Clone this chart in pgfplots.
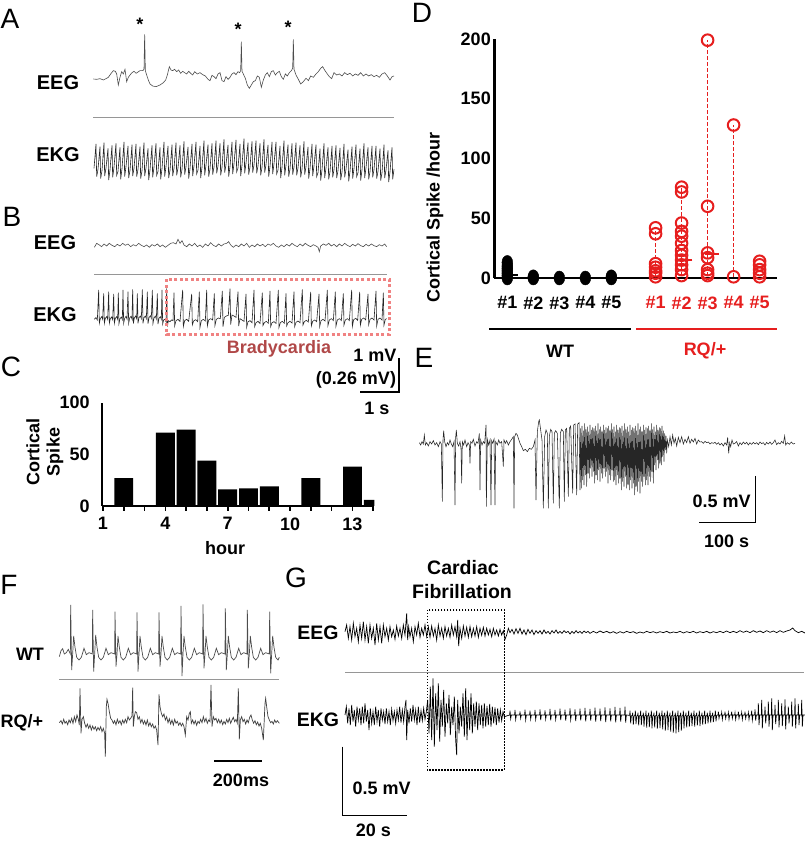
\documentclass[border=0pt]{standalone}
\usepackage{pgfplots}
\pgfplotsset{compat=1.18}
\usepackage{fontspec}
\setmainfont{Liberation Sans}
\definecolor{rqred}{RGB}{230,30,30}
\definecolor{bradybox}{RGB}{240,130,130}
\definecolor{bradytext}{RGB}{176,72,72}
\definecolor{sepgray}{RGB}{150,150,150}
\newcommand{\lab}{\fontsize{18}{21}\selectfont\bfseries}
\newcommand{\labb}{\fontsize{20}{24}\selectfont\bfseries}
\newcommand{\labg}{\fontsize{19.5}{23}\selectfont\bfseries}
\newcommand{\pan}{\fontsize{28}{32}\selectfont}
\pgfplotsset{trace/.style={hide axis, scale only axis, anchor=south west, y dir=reverse, clip=false, xmin=0, ymin=0}}
\begin{document}
\begin{tikzpicture}[x=1pt,y=1pt]
\useasboundingbox (0pt,0pt) rectangle (805pt,843pt);

% ---------------- Panel A traces (zoom coords, region 0,0 400x200)
\begin{axis}[trace, at={(0pt,643pt)}, width=400pt, height=200pt, xmax=1200, ymax=600]
\addplot[black!70, line width=0.6pt] coordinates {(280,237)(290,238)(300,236)(310,240)(318,236)(325,232)(332,222)(340,212)(346,214)(350,222)(355,255)(360,232)(365,215)(370,222)(375,208)(380,245)(385,232)(390,225)(396,218)(402,214)(408,220)(414,216)(420,212)(428,212)(432,208)(434,103)(436,212)(440,225)(445,240)(450,252)(458,258)(468,260)(480,255)(490,248)(497,240)(502,225)(508,200)(513,210)(518,212)(524,208)(530,215)(536,210)(542,220)(548,214)(554,218)(560,222)(566,214)(572,220)(578,225)(584,215)(592,222)(600,218)(608,224)(616,228)(624,238)(630,242)(636,226)(642,230)(648,236)(654,222)(660,218)(666,242)(672,245)(678,230)(684,238)(690,232)(696,222)(702,218)(708,224)(714,215)(719,218)(722,212)(724,125)(726,214)(730,222)(736,235)(742,255)(748,265)(754,255)(760,245)(766,242)(772,228)(778,232)(784,262)(790,240)(796,225)(802,218)(808,230)(814,215)(820,212)(826,225)(832,218)(838,214)(844,230)(850,238)(856,222)(862,228)(868,218)(874,212)(878,205)(880,118)(882,208)(888,225)(895,238)(902,252)(910,245)(918,235)(925,242)(932,228)(940,232)(948,222)(955,215)(962,205)(968,200)(975,212)(982,222)(988,230)(995,236)(1002,218)(1010,225)(1018,222)(1026,228)(1034,218)(1042,224)(1050,220)(1058,228)(1066,222)(1074,226)(1082,218)(1090,228)(1098,222)(1106,228)(1114,224)(1122,230)(1130,226)(1138,232)(1146,222)(1154,218)(1162,228)(1170,240)(1176,230)(1182,228)};
\addplot[black!85, line width=0.6pt] coordinates {(282,505)(288,432)(290,530)(294,508)(300,440)(302,536)(306,512)(312,428)(314,528)(318,504)(324,445)(326,540)(330,510)(336,436)(338,532)(342,502)(348,430)(350,526)(354,514)(360,442)(362,538)(366,506)(372,426)(374,530)(378,500)(384,438)(386,534)(390,511)(396,434)(398,528)(402,505)(408,432)(410,530)(414,508)(420,440)(422,536)(426,512)(432,428)(434,528)(438,504)(444,445)(446,540)(450,510)(456,436)(458,532)(462,502)(468,430)(470,526)(474,514)(480,442)(482,538)(486,506)(492,426)(494,530)(498,500)(504,438)(506,534)(510,511)(516,434)(518,528)(522,505)(528,428)(530,526)(534,504)(540,436)(542,532)(546,508)(552,424)(554,524)(558,500)(564,441)(566,536)(570,506)(576,432)(578,528)(582,498)(588,426)(590,522)(594,510)(600,438)(602,534)(606,502)(612,422)(614,526)(618,496)(624,434)(626,530)(630,507)(636,430)(638,524)(642,501)(648,422)(650,520)(654,498)(660,430)(662,526)(666,502)(672,418)(674,518)(678,494)(684,435)(686,530)(690,500)(696,426)(698,522)(702,492)(708,420)(710,516)(714,504)(720,432)(722,528)(726,496)(732,416)(734,520)(738,490)(744,428)(746,524)(750,501)(756,424)(758,518)(762,495)(768,422)(770,520)(774,498)(780,430)(782,526)(786,502)(792,418)(794,518)(798,494)(804,435)(806,530)(810,500)(816,426)(818,522)(822,492)(828,426)(830,522)(834,510)(840,438)(842,534)(846,502)(852,422)(854,526)(858,496)(864,434)(866,530)(870,507)(876,430)(878,524)(882,501)(888,428)(890,526)(894,504)(900,436)(902,532)(906,508)(912,424)(914,524)(918,500)(924,441)(926,536)(930,506)(936,432)(938,528)(942,498)(948,434)(950,530)(954,518)(960,446)(962,542)(966,510)(972,430)(974,534)(978,504)(984,442)(986,538)(990,515)(996,438)(998,532)(1002,509)(1008,436)(1010,534)(1014,512)(1020,444)(1022,540)(1026,516)(1032,432)(1034,532)(1038,508)(1044,449)(1046,544)(1050,514)(1056,440)(1058,536)(1062,506)(1068,434)(1070,530)(1074,518)(1080,446)(1082,542)(1086,510)(1092,430)(1094,534)(1098,504)(1104,442)(1106,538)(1110,515)(1116,438)(1118,532)(1122,509)(1128,438)(1130,536)(1134,514)(1140,446)(1142,542)(1146,518)(1152,434)(1154,534)(1158,510)(1164,451)(1166,546)(1170,516)(1176,442)(1178,538)(1182,508)};
\end{axis}

% ---------------- Panel B traces (zoom coords, region 0,190 410x230)
\begin{axis}[trace, at={(0pt,423pt)}, width=410pt, height=230pt, xmax=1230, ymax=690]
\addplot[black!70, line width=0.6pt] coordinates {(283,172)(290,160)(298,165)(305,170)(312,162)(320,168)(328,160)(336,166)(344,170)(352,163)(360,168)(368,160)(376,166)(384,162)(392,170)(400,164)(408,168)(416,160)(424,166)(432,170)(440,165)(448,172)(456,164)(464,168)(472,162)(480,170)(488,165)(496,172)(504,166)(512,160)(520,158)(528,162)(534,148)(540,160)(546,152)(552,165)(560,170)(568,162)(576,168)(584,160)(592,170)(600,165)(608,172)(616,162)(624,168)(632,158)(640,166)(648,170)(656,162)(664,168)(672,162)(680,160)(686,155)(692,165)(700,172)(708,165)(716,170)(724,162)(732,168)(740,160)(748,172)(756,165)(764,170)(772,162)(780,168)(788,163)(796,170)(804,162)(812,166)(820,160)(828,168)(836,172)(844,165)(852,170)(860,163)(868,168)(876,160)(884,166)(892,170)(900,162)(908,168)(916,160)(924,166)(932,170)(940,164)(948,168)(954,172)(958,185)(962,168)(970,162)(978,166)(986,160)(994,168)(1002,163)(1010,170)(1018,162)(1026,168)(1034,160)(1042,166)(1050,170)(1058,163)(1066,168)(1074,161)(1082,167)(1090,170)(1098,163)(1106,168)(1114,162)(1122,167)(1130,170)(1138,164)(1146,168)(1154,162)(1160,170)};
\addplot[black!85, line width=0.6pt] coordinates {(283,388)(288,383)(292,390)(296,300)(298,400)(301,386)(305,380)(308,388)(311,310)(313,400)(316,385)(320,380)(323,388)(326,305)(328,400)(331,386)(335,381)(338,389)(341,312)(343,400)(346,385)(350,380)(353,388)(355,308)(357,401)(360,386)(364,381)(367,389)(369,300)(371,400)(374,385)(378,379)(381,387)(384,305)(386,400)(389,384)(393,379)(396,387)(398,298)(400,401)(403,384)(407,378)(410,386)(412,310)(414,400)(417,383)(421,378)(424,386)(427,298)(429,400)(432,383)(436,378)(439,386)(442,305)(444,401)(447,383)(451,377)(454,385)(457,300)(459,400)(462,384)(466,378)(469,387)(472,310)(474,402)(477,385)(481,380)(484,388)(486,300)(488,402)(491,390)(495,388)(498,395)(500,295)(502,410)(505,392)(510,395)(515,390)(519,392)(522,308)(524,408)(528,392)(534,388)(540,394)(548,300)(550,410)(554,392)(560,388)(566,394)(575,312)(577,405)(581,393)(587,389)(593,395)(598,305)(600,412)(604,392)(610,388)(616,393)(620,300)(622,408)(626,390)(632,386)(638,390)(643,310)(645,406)(649,388)(655,384)(661,386)(667,303)(669,410)(673,382)(679,378)(685,376)(690,296)(692,404)(696,375)(702,378)(708,382)(714,305)(716,408)(720,386)(726,390)(732,394)(738,312)(740,412)(744,395)(750,392)(756,398)(762,300)(764,410)(768,398)(774,394)(780,400)(787,308)(789,406)(793,398)(799,394)(805,400)(810,303)(812,410)(816,398)(822,395)(828,400)(835,300)(837,412)(841,398)(847,394)(853,400)(858,310)(860,408)(864,398)(870,394)(876,399)(882,305)(884,410)(888,397)(894,393)(900,398)(907,298)(909,405)(913,395)(919,391)(925,396)(932,306)(934,408)(938,394)(944,390)(950,395)(957,312)(959,410)(963,392)(969,388)(975,393)(982,300)(984,406)(988,390)(994,386)(1000,392)(1006,305)(1008,408)(1012,390)(1018,386)(1024,392)(1030,310)(1032,405)(1036,390)(1042,386)(1048,392)(1055,300)(1057,410)(1061,389)(1067,385)(1073,391)(1079,306)(1081,406)(1085,388)(1091,384)(1097,390)(1104,312)(1106,404)(1110,388)(1116,384)(1122,390)(1128,303)(1130,408)(1134,388)(1140,384)(1146,390)(1150,308)(1152,405)(1156,388)(1160,386)};
\end{axis}

% ---------------- Panel E trace (zoom coords, region 380,400 425x170)
\begin{axis}[trace, at={(380pt,273pt)}, width=425pt, height=170pt, xmax=1275, ymax=510]
\addplot[black!85, line width=0.55pt] coordinates {(118,128)(122,135)(126,125)(130,132)(133,105)(136,135)(140,128)(145,138)(150,125)(155,132)(160,122)(165,135)(170,128)(175,140)(180,125)(184,132)(187,305)(189,120)(191,92)(194,125)(198,140)(202,128)(206,135)(210,120)(214,132)(218,140)(222,125)(225,315)(227,112)(229,90)(232,130)(236,138)(240,125)(243,145)(245,250)(247,125)(251,135)(255,120)(260,140)(264,128)(268,135)(270,190)(272,125)(276,130)(280,118)(285,138)(290,125)(294,130)(298,100)(300,270)(302,120)(306,135)(310,125)(314,130)(318,75)(319,320)(322,118)(326,135)(330,120)(333,315)(335,122)(338,130)(342,118)(345,315)(347,125)(352,135)(356,120)(360,130)(365,125)(370,200)(372,120)(376,130)(380,122)(385,135)(390,125)(395,118)(400,110)(402,325)(404,110)(408,100)(412,105)(416,118)(420,130)(425,140)(430,152)(436,148)(442,155)(448,145)(454,148)(460,140)(465,120)(468,300)(472,95)(476,65)(478,60)(482,90)(486,120)(490,325)(494,110)(498,90)(502,100)(505,325)(508,108)(512,88)(516,95)(520,310)(523,100)(527,92)(532,100)(538,325)(541,100)(545,88)(550,95)(553,305)(556,90)(560,85)(565,290)(568,85)(572,78)(578,280)(581,75)(585,72)(590,285)(593,72)(597,68)(600,270)(602,85)(604,265)(606,78)(608,240)(610,92)(612,255)(614,70)(616,225)(618,88)(620,260)(622,80)(624,220)(626,95)(628,235)(630,75)(632,205)(634,90)(636,230)(638,82)(640,215)(642,85)(644,250)(646,78)(648,225)(650,92)(652,240)(654,70)(656,210)(658,88)(660,245)(662,80)(664,220)(666,95)(668,235)(670,75)(672,205)(674,90)(676,230)(678,82)(680,215)(682,85)(684,250)(686,78)(688,225)(690,92)(692,240)(694,70)(696,210)(698,88)(700,245)(702,80)(704,240)(706,95)(708,255)(710,75)(712,225)(714,90)(716,250)(718,82)(720,235)(722,85)(724,270)(726,78)(728,245)(730,92)(732,260)(734,70)(736,230)(738,88)(740,265)(742,80)(744,255)(746,95)(748,270)(750,75)(752,240)(754,90)(756,265)(758,82)(760,250)(762,85)(764,285)(766,78)(768,260)(770,92)(772,275)(774,70)(776,245)(778,88)(780,280)(782,80)(784,245)(786,95)(788,260)(790,75)(792,230)(794,90)(796,255)(798,82)(800,240)(802,85)(804,255)(806,78)(808,230)(810,92)(812,245)(814,70)(816,215)(818,88)(820,250)(822,80)(824,195)(826,95)(828,210)(830,75)(832,180)(834,90)(836,205)(838,82)(840,190)(842,85)(844,195)(846,78)(848,170)(850,92)(852,185)(854,100)(856,150)(858,108)(860,160)(862,120)(866,140)(870,110)(874,135)(878,105)(882,130)(886,115)(890,138)(895,112)(900,128)(905,110)(910,132)(915,118)(920,128)(925,110)(930,130)(935,118)(940,126)(945,115)(950,132)(955,120)(960,126)(965,125)(970,130)(975,124)(980,128)(985,126)(990,132)(995,128)(1000,130)(1005,127)(1010,133)(1015,128)(1020,135)(1025,130)(1030,138)(1035,128)(1040,135)(1043,112)(1046,160)(1049,128)(1052,140)(1056,120)(1060,132)(1065,130)(1070,125)(1075,138)(1080,128)(1085,134)(1090,126)(1095,132)(1100,127)(1105,135)(1110,128)(1115,133)(1120,127)(1125,132)(1130,128)(1135,134)(1140,126)(1145,131)(1150,128)(1155,135)(1160,127)(1165,132)(1170,126)(1175,133)(1180,128)(1185,120)(1190,134)(1195,128)(1200,132)(1205,124)(1210,130)(1214,108)(1217,135)(1222,128)(1228,133)(1234,126)(1240,132)(1245,130)};
\end{axis}

% ---------------- Panel F traces (zoom coords, region 0,560 300x283)
\begin{axis}[trace, at={(0pt,0pt)}, width=300pt, height=283pt, xmax=900, ymax=849]
\addplot[black!70, line width=0.7pt] coordinates {(178,290)(183,272)(188,266)(193,282)(199,278)(205,268)(211,282)(212,135)(215,330)(218,282)(221,228)(225,262)(230,292)(237,300)(244,292)(252,265)(259,284)(267,278)(277,282)(278,150)(281,335)(284,282)(287,225)(291,262)(296,292)(303,300)(310,292)(318,265)(325,284)(333,278)(344,282)(345,155)(348,320)(351,282)(354,228)(358,262)(363,292)(370,300)(377,292)(385,265)(392,284)(400,278)(410,282)(411,157)(414,335)(417,282)(420,228)(424,262)(429,292)(436,300)(443,292)(451,265)(458,284)(466,278)(476,282)(477,157)(480,320)(483,282)(486,228)(490,262)(495,292)(502,300)(509,292)(517,265)(524,284)(532,278)(542,282)(543,138)(546,348)(549,282)(552,228)(556,262)(561,292)(568,300)(575,292)(583,265)(590,284)(598,278)(608,282)(609,133)(612,325)(615,282)(618,228)(622,262)(627,292)(634,300)(641,292)(649,265)(656,284)(664,278)(675,282)(676,145)(679,330)(682,282)(685,228)(689,262)(694,292)(701,300)(708,292)(716,265)(723,284)(731,278)(741,282)(742,150)(745,325)(748,282)(751,228)(755,262)(760,292)(767,300)(774,292)(782,265)(789,284)(797,278)(808,282)(809,155)(812,340)(815,282)(818,228)(822,262)(827,292)(834,300)(838,292)};
\addplot[black!75, line width=0.7pt] coordinates {(178,488)(183,482)(187,492)(191,478)(195,490)(199,484)(203,494)(207,480)(211,488)(215,475)(219,490)(223,470)(227,485)(231,465)(235,478)(238,495)(240,385)(243,520)(246,478)(250,470)(254,490)(258,502)(262,492)(266,505)(270,495)(274,510)(278,498)(282,508)(286,500)(290,512)(294,502)(298,510)(302,500)(306,515)(310,505)(314,520)(316,590)(319,440)(321,418)(324,430)(328,455)(332,475)(336,480)(340,490)(344,482)(348,494)(352,478)(356,490)(360,482)(364,494)(368,480)(372,490)(376,478)(380,488)(384,470)(388,480)(392,475)(396,468)(398,383)(400,500)(403,470)(406,455)(410,458)(414,478)(418,470)(422,488)(426,478)(430,492)(434,482)(438,495)(442,480)(446,498)(450,488)(454,500)(458,492)(462,505)(466,498)(470,510)(474,555)(477,403)(480,440)(484,460)(488,470)(492,462)(496,480)(500,470)(504,488)(508,476)(512,492)(516,480)(520,495)(524,478)(528,490)(532,484)(536,496)(540,488)(544,498)(548,490)(552,500)(556,525)(560,470)(564,480)(568,460)(571,455)(574,490)(578,480)(582,492)(586,482)(590,496)(594,484)(598,490)(602,478)(606,488)(610,470)(614,485)(618,475)(622,490)(626,480)(630,485)(633,375)(636,500)(640,470)(644,480)(648,475)(652,488)(656,478)(660,490)(664,480)(668,494)(672,484)(676,492)(680,478)(684,488)(688,475)(692,490)(696,480)(700,472)(704,485)(708,478)(712,490)(715,385)(718,538)(721,480)(725,470)(729,485)(733,478)(737,492)(741,480)(745,488)(749,472)(753,465)(757,480)(761,490)(765,482)(769,494)(773,486)(777,498)(781,490)(785,505)(790,540)(795,430)(797,415)(800,440)(804,470)(808,480)(812,488)(816,484)(820,492)(824,480)(828,488)(832,482)(838,490)};
\end{axis}

% ---------------- Panel G traces (zoom coords, region 290,560 515x283)
\begin{axis}[trace, at={(290pt,0pt)}, width=515pt, height=283pt, xmax=1545, ymax=849]
\addplot[black, line width=0.7pt] coordinates {(165,215)(170,195)(175,235)(180,200)(185,240)(190,190)(195,230)(200,205)(205,245)(210,195)(215,235)(220,185)(225,240)(230,200)(235,250)(240,195)(245,235)(250,205)(255,255)(260,190)(265,240)(270,200)(275,250)(280,195)(285,230)(290,205)(295,240)(300,200)(305,230)(310,210)(315,238)(320,198)(325,228)(330,205)(335,235)(340,195)(345,225)(350,160)(353,240)(356,200)(360,230)(365,205)(370,245)(375,200)(380,225)(385,190)(390,232)(395,205)(400,225)(405,195)(410,230)(415,200)(420,232)(425,198)(430,228)(435,205)(440,240)(445,195)(450,228)(455,205)(460,235)(465,200)(470,228)(475,205)(480,232)(485,195)(490,225)(495,200)(500,230)(503,180)(506,258)(510,205)(515,235)(520,198)(525,228)(530,202)(535,232)(540,200)(545,230)(550,205)(555,228)(560,200)(565,232)(570,205)(575,226)(580,202)(585,228)(590,205)(595,225)(600,208)(605,230)(610,205)(615,225)(620,210)(625,228)(630,208)(635,225)(640,212)(645,238)(650,225)(655,205)(660,218)(666,208)(672,222)(678,206)(684,220)(690,205)(696,222)(702,210)(708,224)(714,208)(720,220)(726,210)(732,224)(738,212)(744,220)(750,212)(756,222)(762,210)(768,220)(774,214)(780,222)(786,212)(792,219)(798,210)(804,220)(810,214)(816,220)(822,212)(828,218)(834,214)(840,222)(846,214)(852,220)(858,212)(864,219)(870,214)(876,220)(882,213)(888,218)(894,214)(900,220)(910,214)(920,219)(930,213)(940,218)(950,214)(960,219)(970,215)(980,220)(990,215)(1000,219)(1010,214)(1020,218)(1030,215)(1040,220)(1050,216)(1060,219)(1070,214)(1080,218)(1090,215)(1100,219)(1110,215)(1120,218)(1130,214)(1140,219)(1150,216)(1160,218)(1170,214)(1180,219)(1190,215)(1200,218)(1210,214)(1220,219)(1230,215)(1240,218)(1250,214)(1260,219)(1270,215)(1280,218)(1290,214)(1300,218)(1310,213)(1320,218)(1330,214)(1340,218)(1350,212)(1360,217)(1370,213)(1380,218)(1390,212)(1400,217)(1410,213)(1420,218)(1430,212)(1440,217)(1450,213)(1460,218)(1470,212)(1480,217)(1490,213)(1500,210)(1508,204)(1515,212)(1525,218)(1535,214)(1545,219)};
\addplot[black, line width=0.7pt] coordinates {(165,465)(169,440)(173,490)(177,445)(181,495)(185,435)(189,485)(193,450)(197,500)(201,440)(205,480)(209,445)(213,495)(217,440)(221,490)(225,430)(229,485)(233,450)(237,510)(241,445)(245,490)(249,455)(253,495)(257,440)(261,485)(265,450)(269,500)(273,445)(277,480)(281,455)(285,492)(289,445)(293,485)(297,455)(301,495)(305,448)(309,482)(313,455)(317,490)(321,450)(325,480)(329,440)(333,488)(337,450)(341,485)(345,440)(348,420)(350,540)(353,450)(357,490)(361,445)(365,485)(369,435)(373,480)(377,450)(381,495)(385,440)(389,488)(393,452)(397,482)(401,445)(405,478)(409,455)(413,420)(417,520)(421,380)(425,540)(429,355)(433,560)(437,400)(441,510)(445,370)(449,545)(453,420)(457,500)(461,390)(465,530)(469,430)(473,490)(477,405)(481,525)(485,440)(489,495)(493,410)(497,540)(500,585)(503,420)(507,520)(511,440)(515,500)(519,400)(523,530)(527,385)(531,540)(535,420)(539,510)(543,400)(547,520)(551,430)(555,500)(559,425)(563,510)(567,430)(571,495)(575,435)(579,505)(583,430)(587,500)(591,438)(595,495)(599,432)(603,500)(607,440)(611,490)(615,442)(619,495)(623,445)(627,488)(631,450)(635,482)(639,455)(643,470)(659,465)(660,452)(662,476)(664,465)(674,465)(675,450)(677,478)(679,465)(689,465)(690,454)(692,475)(694,465)(704,465)(705,449)(707,479)(709,465)(719,465)(720,452)(722,477)(724,465)(734,465)(735,450)(737,478)(739,465)(749,465)(750,448)(752,480)(754,465)(764,465)(765,451)(767,477)(769,465)(779,465)(780,447)(782,481)(784,465)(794,465)(795,450)(797,478)(799,465)(809,465)(810,446)(812,480)(814,465)(824,465)(825,449)(827,482)(829,465)(839,465)(840,445)(842,479)(844,465)(854,465)(855,448)(857,483)(859,465)(869,465)(870,446)(872,481)(874,465)(884,465)(885,444)(887,484)(889,465)(899,465)(900,447)(902,482)(904,465)(914,465)(915,443)(917,485)(919,465)(929,465)(930,446)(932,483)(934,465)(944,465)(945,442)(947,486)(949,465)(959,465)(960,445)(962,484)(964,465)(974,465)(975,441)(977,487)(979,465)(989,465)(990,444)(992,485)(994,465)(1004,465)(1005,440)(1007,488)(1009,465)(1019,466)(1020,452)(1022,490)(1024,468)(1027,466)(1028,458)(1030,494)(1032,468)(1035,466)(1036,452)(1038,492)(1040,468)(1043,466)(1044,458)(1046,496)(1048,468)(1051,466)(1052,452)(1054,495)(1056,468)(1059,466)(1060,458)(1062,500)(1064,468)(1067,466)(1068,452)(1070,503)(1072,468)(1075,466)(1076,458)(1078,501)(1080,468)(1083,466)(1084,452)(1086,505)(1088,468)(1091,466)(1092,458)(1094,502)(1096,468)(1099,466)(1100,452)(1102,506)(1104,468)(1107,466)(1108,458)(1110,504)(1112,468)(1115,466)(1116,452)(1118,508)(1120,468)(1123,466)(1124,458)(1126,512)(1128,468)(1131,466)(1132,452)(1134,510)(1136,468)(1139,466)(1140,458)(1142,515)(1144,468)(1147,466)(1148,452)(1150,518)(1152,468)(1155,466)(1156,458)(1158,520)(1160,468)(1163,466)(1164,452)(1166,516)(1168,468)(1171,466)(1172,458)(1174,512)(1176,468)(1179,466)(1180,452)(1182,505)(1184,468)(1187,466)(1188,458)(1190,502)(1192,468)(1195,466)(1196,452)(1198,500)(1200,468)(1203,466)(1204,458)(1206,498)(1208,468)(1211,466)(1212,452)(1214,500)(1216,468)(1219,466)(1220,458)(1222,496)(1224,468)(1227,466)(1228,452)(1230,498)(1232,468)(1235,466)(1236,458)(1238,494)(1240,468)(1243,466)(1244,452)(1246,492)(1248,468)(1251,466)(1252,458)(1254,490)(1256,468)(1259,466)(1260,452)(1262,488)(1264,468)(1267,466)(1268,458)(1270,486)(1272,468)(1275,466)(1276,452)(1278,484)(1280,466)(1284,465)(1285,455)(1287,475)(1289,465)(1294,465)(1295,458)(1297,478)(1299,465)(1304,465)(1305,455)(1307,475)(1309,465)(1314,465)(1315,458)(1317,478)(1319,465)(1324,465)(1325,455)(1327,475)(1329,465)(1334,465)(1335,458)(1337,478)(1339,465)(1344,465)(1345,455)(1347,475)(1349,465)(1354,465)(1355,458)(1357,478)(1359,465)(1364,465)(1365,455)(1367,475)(1369,465)(1374,465)(1375,458)(1377,478)(1379,465)(1384,465)(1385,452)(1387,480)(1389,465)(1394,465)(1395,448)(1397,482)(1399,465)(1404,465)(1405,430)(1407,495)(1409,465)(1414,465)(1415,420)(1417,505)(1419,465)(1424,465)(1425,440)(1427,490)(1429,465)(1434,465)(1435,425)(1437,500)(1439,465)(1444,465)(1445,415)(1447,510)(1449,465)(1454,465)(1455,435)(1457,492)(1459,465)(1464,465)(1465,420)(1467,502)(1469,465)(1474,465)(1475,430)(1477,498)(1479,465)(1484,465)(1485,418)(1487,508)(1489,465)(1494,465)(1495,440)(1497,490)(1499,465)(1504,465)(1505,425)(1507,500)(1509,465)(1514,465)(1515,415)(1517,505)(1519,465)(1524,465)(1525,432)(1527,495)(1529,465)(1534,465)(1535,420)(1537,500)(1539,465)(1545,465)};
\end{axis}

% ---------------- Panel C histogram
\begin{axis}[at={(101.7pt,337pt)}, anchor=south west, scale only axis, width=272.6pt, height=103.3pt,
  xmin=0.94, xmax=14.05, ymin=0, ymax=100,
  axis x line*=bottom, axis y line*=left, axis line style={line width=2.2pt, black},
  xtick={1,2,3,4,5,6,7,8,9,10,11,12,13,14}, xticklabels={1,,,4,,,7,,,10,,,13,},
  ytick={0,50,100}, yticklabels={0,50,100},
  tick align=outside, major tick length=5pt,
  xtick style={line width=1.6pt, black}, ytick style={draw=none},
  ticklabel style={font=\lab},
  xticklabel style={yshift=-3pt}, yticklabel style={xshift=-3.5pt}]
\addplot[ybar, bar width=0.91, fill=black, draw=none] coordinates {(2,27)(4,71)(5,74)(6,44)(7,16)(8,17)(9,19)(11,27)(13,38)(14,6)};
\end{axis}

% ---------------- Panel D scatter
\begin{axis}[at={(494.3pt,565pt)}, anchor=south west, scale only axis, width=283pt, height=239pt,
  xmin=0.5, xmax=11.38, ymin=0, ymax=200, clip=false,
  axis x line*=bottom, axis y line*=left, axis line style={line width=2.5pt, black},
  xtick={1,2,3,4,5,6.7,7.7,8.7,9.7,10.7},
  xticklabels={\#1,\#2,\#3,\#4,\#5,\textcolor{rqred}{\#1},\textcolor{rqred}{\#2},\textcolor{rqred}{\#3},\textcolor{rqred}{\#4},\textcolor{rqred}{\#5}},
  ytick={0,50,100,150,200}, yticklabels={0,50,100,150,200},
  major tick length=0pt, tick style={draw=none},
  ticklabel style={font=\lab}, xticklabel style={yshift=-15pt}]
\addplot[color=rqred, line width=1.2pt, dash pattern=on 3.5pt off 2.5pt] coordinates {(6.7,1)(6.7,42)};
\addplot[color=rqred, line width=1.2pt, dash pattern=on 3.5pt off 2.5pt] coordinates {(7.7,2)(7.7,76)};
\addplot[color=rqred, line width=1.2pt, dash pattern=on 3.5pt off 2.5pt] coordinates {(8.7,2)(8.7,199)};
\addplot[color=rqred, line width=1.2pt, dash pattern=on 3.5pt off 2.5pt] coordinates {(9.7,1)(9.7,128)};
\addplot[only marks, mark=*, mark size=5.4pt, mark options={draw=black, fill=black, yscale=1.3}] coordinates {(1,0)(1,2)(1,4)(1,6)(1,8)(1,10)(1,13)(2,0)(2,1)(3,0)(4,0)(5,0)(5,1)};
\addplot[only marks, mark=-, mark size=8pt, mark options={draw=black, line width=1.5pt}] coordinates {(1.1,2.5)};
\addplot[only marks, mark=o, mark size=5.8pt, mark options={draw=rqred, line width=2pt}] coordinates {(6.7,1)(6.7,4)(6.7,6)(6.7,9)(6.7,12)(6.7,37)(6.7,42)(7.7,2)(7.7,7)(7.7,11)(7.7,15)(7.7,19)(7.7,23)(7.7,29)(7.7,35)(7.7,39)(7.7,46)(7.7,72)(7.7,76)(8.7,2)(8.7,4)(8.7,7)(8.7,17)(8.7,21)(8.7,60)(8.7,199)(9.7,1)(9.7,128)(10.7,1)(10.7,4)(10.7,7)(10.7,11)(10.7,14)};
\addplot[only marks, mark=-, mark size=7pt, mark options={draw=rqred, line width=1.5pt}] coordinates {(7.85,15)(8.85,20)};
\end{axis}

% ---------------- rotated labels
\node[rotate=90] at (33pt,391pt) {\lab Cortical};
\node[rotate=90] at (55pt,391pt) {\lab Spike};
\node[rotate=90] at (435pt,625.5pt) {\lab Cortical Spike /hour};

% ---------------- annotations (image pixel coordinates, y down)
\begin{scope}[shift={(0pt,843pt)}, yscale=-1]
\node at (10,19) {\pan A};
\node at (12,217) {\pan B};
\node at (11,367) {\pan C};
\node at (422,13) {\pan D};
\node at (424,358) {\pan E};
\node at (9,585) {\pan F};
\node at (296,578) {\pan G};
% A
\node at (58,83) {\labb EEG};
\node at (58,155) {\labb EKG};
\node at (140,24) {\lab *};
\node at (238,29) {\lab *};
\node at (288,27) {\lab *};
\draw[sepgray, line width=1pt] (93,118) -- (394,118);
% B
\node at (55,243) {\labb EEG};
\node at (55,315) {\labb EKG};
\draw[sepgray, line width=1pt] (94,275) -- (387,275);
\draw[bradybox, line width=3pt, dash pattern=on 3pt off 2.5pt] (166.7,279.3) rectangle (389.3,334.3);
\node[text=bradytext] at (279,349) {\lab Bradycardia};
\node at (375,355) {\lab 1 mV};
\node at (356,380) {\lab (0.26 mV)};
\node at (377,408) {\lab 1 s};
\draw[black, line width=1.5pt] (399,358) -- (399,392) -- (360,392);
% C
\node at (225,548) {\lab hour};
% D
\draw[black, line width=1.5pt] (489,329) -- (631,329);
\draw[rqred, line width=1.5pt] (636,329) -- (777,329);
\node at (560,351) {\lab WT};
\node[text=rqred] at (705,351) {\lab RQ/+};
% E
\draw[black, line width=1.5pt] (755.7,476) -- (755.7,522.7) -- (699,522.7);
\node at (721.7,501.7) {\lab 0.5 mV};
\node at (726.7,541.7) {\lab 100 s};
% F
\node at (30,654) {\lab WT};
\node at (22,723) {\lab RQ/+};
\draw[sepgray, line width=1pt] (59,680) -- (279,680);
\draw[black, line width=1.6pt] (214,761) -- (262,761);
\node at (241,780) {\lab 200ms};
% G
\node at (463,568) {\labg Cardiac};
\node at (462,592) {\labg Fibrillation};
\node at (318,633) {\labg EEG};
\node at (318,720) {\labg EKG};
\draw[sepgray, line width=1pt] (345,673) -- (804,673);
\draw[black, line width=1.5pt, dash pattern=on 1.5pt off 1.5pt] (427.3,610) rectangle (504.3,770);
\draw[black, line width=1.5pt] (342.3,746.7) -- (342.3,815.7) -- (406.7,815.7);
\node at (381.7,788.3) {\lab 0.5 mV};
\node at (373.3,830) {\lab 20 s};
\end{scope}
\end{tikzpicture}
\end{document}
